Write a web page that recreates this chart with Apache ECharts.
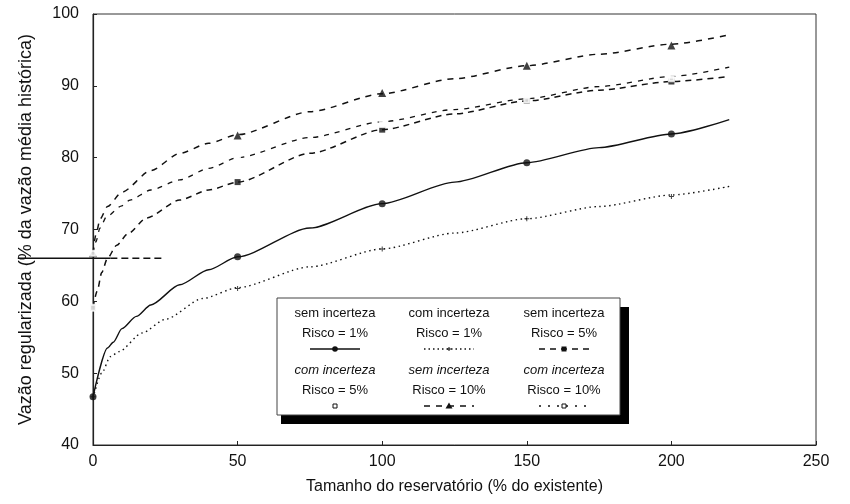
<!DOCTYPE html>
<html>
<head>
<meta charset="utf-8">
<script src="https://cdn.jsdelivr.net/npm/echarts@6/dist/echarts.min.js"></script>
<style>
  html, body { margin: 0; padding: 0; background: #fff; }
  #chart { width: 850px; height: 504px; }
</style>
</head>
<body>
<div id="chart"></div>
<script>
// Axis ticks
const xTicks = [0, 50, 100, 150, 200, 250];
const yTicks = [40, 50, 60, 70, 80, 90, 100];

// Reservoir sizes where regulated flow was computed (% of existing)
const pointX = [0, 50, 100, 150, 200];

// Regulated flow (% of mean historical flow) at each reservoir size
const semRisco1 = [46.7, 66.2, 73.6, 79.3, 83.3];
const comRisco1 = [46.7, 61.8, 67.3, 71.5, 74.6];
const semRisco5 = [59.1, 76.6, 83.9, 87.9, 90.6];
const comRisco5 = [59.1, 73.4, 78.8, 82.0, 84.8];
const semRisco10 = [66.7, 83.1, 89.0, 92.8, 95.6];
const comRisco10 = [66.7, 80.0, 84.6, 88.0, 91.0];

// Trend curves
const curveSem1X = [0, 5, 7, 10, 15, 20, 30, 40, 50, 75, 100, 125, 150, 175, 200, 220];
const curveSem1Y = [46.7, 53.5, 54.3, 56.2, 57.9, 59.5, 62.3, 64.4, 66.2, 70.2, 73.6, 76.6, 79.3, 81.4, 83.3, 85.3];

const curveCom1X = [0, 3, 6, 9, 17, 25, 38, 50, 75, 100, 125, 150, 175, 200, 220];
const curveCom1Y = [46.5, 50.0, 52.3, 53.0, 55.6, 57.5, 60.4, 61.9, 64.8, 67.3, 69.5, 71.5, 73.2, 74.8, 76.0];

const curveSem5X = [0, 1.5, 3, 5, 8.2, 12, 18.5, 30, 40, 50, 75, 100, 125, 150, 175, 200, 220];
const curveSem5Y = [59.1, 61.5, 64.0, 66.0, 67.8, 69.4, 71.6, 74.1, 75.5, 76.6, 80.6, 83.9, 86.1, 87.9, 89.4, 90.6, 91.3];

const curveSem10X = [0, 1, 2.5, 5, 10, 20, 30, 40, 50, 75, 100, 125, 150, 175, 200, 220];
const curveSem10Y = [66.7, 69.3, 71.5, 73.2, 75.2, 78.2, 80.6, 82.0, 83.2, 86.4, 88.9, 91.0, 92.8, 94.4, 95.8, 97.1];

const curveCom10X = [0, 1, 2.4, 4.7, 10, 12.8, 20, 30, 40, 50, 75, 100, 125, 150, 175, 200, 220];
const curveCom10Y = [66.7, 68.3, 70.2, 71.8, 73.3, 74.1, 75.5, 76.9, 78.5, 80.0, 82.8, 85.0, 86.7, 88.2, 89.9, 91.3, 92.6];

// Current regulated flow reference line (solid part, then dashed part)
const refLevel = 66;
const refX = [-26, 6, 24];

// Legend entries (two text lines each)
const legendLine1 = ['sem incerteza', 'com incerteza', 'sem incerteza', 'com incerteza', 'sem incerteza', 'com incerteza'];
const legendLine2 = ['Risco = 1%', 'Risco = 1%', 'Risco = 5%', 'Risco = 5%', 'Risco = 10%', 'Risco = 10%'];

const FONT = '"Liberation Sans", Arial, sans-serif';
const INK = '#111';

const zip = (xs, ys) => xs.map((x, i) => [x, ys[i]]);

const plusPath = 'path://M4,0H6V4H10V6H6V10H4V6H0V4H4Z';

function curve(xs, ys, lineStyle) {
  return {
    type: 'line', data: zip(xs, ys), showSymbol: false, smooth: 0.25, smoothMonotone: 'x',
    lineStyle: Object.assign({ color: INK, width: 1.4 }, lineStyle), z: 3, silent: true
  };
}
function markers(ys, symbol, size, empty) {
  return {
    type: 'scatter', data: zip(pointX, ys), symbol: symbol, symbolSize: size,
    itemStyle: empty ? { color: '#fff', borderColor: INK, borderWidth: 1 } : { color: INK },
    z: 5, silent: true
  };
}

const series = [
  curve(curveSem1X, curveSem1Y, { type: 'solid', width: 1.4 }),
  curve(curveCom1X, curveCom1Y, { type: [1.5, 3.5], width: 1.4 }),
  curve(curveSem5X, curveSem5Y, { type: [6, 5], width: 1.5 }),
  curve(curveSem10X, curveSem10Y, { type: [6, 6], width: 1.5 }),
  curve(curveCom10X, curveCom10Y, { type: [5, 6], width: 1.3 }),
  markers(semRisco1, 'circle', 7, false),
  markers(comRisco1, plusPath, 5, false),
  markers(semRisco5, 'rect', 6, false),
  markers(comRisco5, 'emptyRect', 6, true),
  markers(semRisco10, 'triangle', 8, false),
  markers(comRisco10, 'emptyRect', 5, true)
];

// Legend box drawn as graphic elements: 3 columns x 2 rows
function buildLegend() {
  const colX = [335, 449, 564];
  const rowY = [313, 370];
  const els = [];
  els.push({ id: 'lgShadow', type: 'rect', shape: { x: 281, y: 307, width: 348, height: 117 }, style: { fill: '#000' }, z: 10 });
  els.push({ id: 'lgBox', type: 'rect', shape: { x: 277, y: 298, width: 343, height: 117 }, style: { fill: '#fff', stroke: '#444', lineWidth: 1 }, z: 11 });
  const samples = [
    { dash: null, mark: 'circle' },
    { dash: [1.5, 3], mark: 'plus' },
    { dash: [6, 5], mark: 'square' },
    { dash: 'none', mark: 'emptySquare' },
    { dash: [6, 6], mark: 'triangle' },
    { dash: [2, 7], mark: 'emptySquare' }
  ];
  for (let i = 0; i < 6; i++) {
    const cx = colX[i % 3];
    const y0 = rowY[Math.floor(i / 3)];
    const italic = i >= 3 ? 'italic ' : '';
    els.push({ type: 'text', x: cx, y: y0, z: 12,
      style: { text: legendLine1[i], font: italic + '13px ' + FONT, fill: INK, textAlign: 'center', textVerticalAlign: 'middle' } });
    els.push({ type: 'text', x: cx, y: y0 + 20, z: 12,
      style: { text: legendLine2[i], font: '13px ' + FONT, fill: INK, textAlign: 'center', textVerticalAlign: 'middle' } });
    const sy = y0 + 36;
    const s = samples[i];
    if (s.dash !== 'none') {
      els.push({ type: 'line', z: 12, shape: { x1: cx - 25, y1: sy, x2: cx + 25, y2: sy },
        style: { stroke: INK, lineWidth: 1.4, lineDash: s.dash || null } });
    }
    if (s.mark === 'circle') els.push({ type: 'circle', z: 13, shape: { cx: cx, cy: sy, r: 2.8 }, style: { fill: INK } });
    if (s.mark === 'square') els.push({ type: 'rect', z: 13, shape: { x: cx - 2.5, y: sy - 2.5, width: 5, height: 5 }, style: { fill: INK } });
    if (s.mark === 'emptySquare') els.push({ type: 'rect', z: 13, shape: { x: cx - 2, y: sy - 2, width: 4, height: 4 }, style: { fill: '#fff', stroke: INK, lineWidth: 1 } });
    if (s.mark === 'triangle') els.push({ type: 'polygon', z: 13, shape: { points: [[cx, sy - 3.5], [cx + 3.5, sy + 2.5], [cx - 3.5, sy + 2.5]] }, style: { fill: INK } });
    if (s.mark === 'plus') {
      els.push({ type: 'line', z: 13, shape: { x1: cx - 2, y1: sy, x2: cx + 2, y2: sy }, style: { stroke: INK, lineWidth: 1 } });
      els.push({ type: 'line', z: 13, shape: { x1: cx, y1: sy - 2, x2: cx, y2: sy + 2 }, style: { stroke: INK, lineWidth: 1 } });
    }
  }
  return els;
}

const chart = echarts.init(document.getElementById('chart'), null, { renderer: 'canvas' });
chart.setOption({
  backgroundColor: '#fff',
  animation: false,
  grid: { left: 93, right: 34, top: 14, bottom: 59, show: true, borderColor: '#333', borderWidth: 1 },
  xAxis: {
    type: 'value', min: xTicks[0], max: xTicks[xTicks.length - 1], interval: xTicks[1] - xTicks[0],
    name: 'Tamanho do reservatório (% do existente)', nameLocation: 'middle', nameGap: 34,
    nameTextStyle: { fontFamily: FONT, fontSize: 16, color: INK },
    axisLine: { show: true, lineStyle: { color: '#222', width: 1.2 } },
    axisTick: { show: true, inside: true, length: 4, lineStyle: { color: '#222' } },
    axisLabel: { fontFamily: FONT, fontSize: 16, color: INK, margin: 9 },
    splitLine: { show: false }
  },
  yAxis: {
    type: 'value', min: yTicks[0], max: yTicks[yTicks.length - 1], interval: yTicks[1] - yTicks[0],
    name: 'Vazão regularizada (% da vazão média histórica)', nameLocation: 'middle', nameGap: 58,
    nameTextStyle: { fontFamily: FONT, fontSize: 18, color: INK },
    axisLine: { show: true, lineStyle: { color: '#222', width: 1.2 } },
    axisTick: { show: true, inside: true, length: 4, lineStyle: { color: '#222' } },
    axisLabel: { fontFamily: FONT, fontSize: 16, color: INK, margin: 14 },
    splitLine: { show: false }
  },
  series: series,
  graphic: buildLegend()
});

// Reference line at the current regulated flow, placed through the axis scales
const p0 = chart.convertToPixel({ gridIndex: 0 }, [refX[0], refLevel]);
const p1 = chart.convertToPixel({ gridIndex: 0 }, [refX[1], refLevel]);
const p2 = chart.convertToPixel({ gridIndex: 0 }, [refX[2], refLevel]);
chart.setOption({
  graphic: [
    { id: 'refSolid', type: 'line', z: 4, shape: { x1: p0[0], y1: p0[1], x2: p1[0], y2: p1[1] },
      style: { stroke: INK, lineWidth: 1.6 } },
    { id: 'refDash', type: 'line', z: 4, shape: { x1: p1[0], y1: p1[1], x2: p2[0], y2: p2[1] },
      style: { stroke: INK, lineWidth: 1.4, lineDash: [7, 4] } }
  ]
});
</script>
</body>
</html>
